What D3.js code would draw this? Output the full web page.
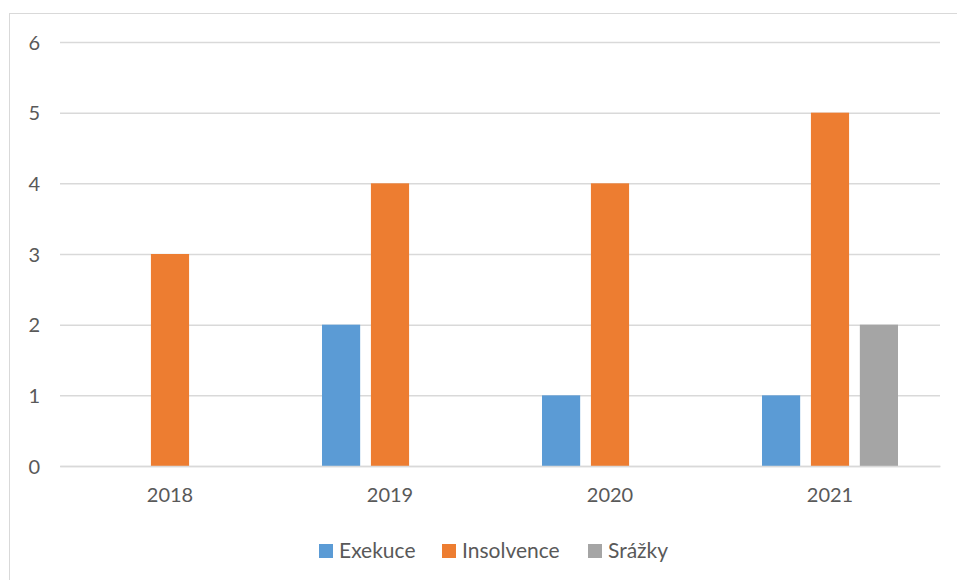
<!DOCTYPE html>
<html>
<head>
<meta charset="utf-8">
<style>
body{ margin:0; background:#fff; }
#chart{ display:block; }
.tick text{ fill:#595959; font-family: Lato, "Open Sans", sans-serif; font-size:20px; }
.legend text{ fill:#595959; font-family: Lato, "Open Sans", sans-serif; font-size:21px; }
</style>
</head>
<body>
<svg id="chart"></svg>
<script src="https://d3js.org/d3.v7.min.js"></script>
<script>
var years = ["2018", "2019", "2020", "2021"]
var seriesNames = ["Exekuce", "Insolvence", "Srážky"]
var exekuce = [0, 2, 1, 1]
var insolvence = [3, 4, 4, 5]
var srazky = [0, 0, 0, 2]
var colors = ["#5B9BD5", "#ED7D31", "#A5A5A5"]
var yTicks = [0, 1, 2, 3, 4, 5, 6]

var W = 957, H = 580
var margin = { top: 42, right: 17, bottom: 114, left: 60 }
var width = W - margin.left - margin.right
var height = H - margin.top - margin.bottom

var svg = d3.select("#chart").attr("width", W).attr("height", H)

// chart area border (Excel style)
svg.append("rect")
    .attr("x", 9.5).attr("y", 13.5)
    .attr("width", 980).attr("height", 600)
    .attr("fill", "none")
    .attr("stroke", "#D9D9D9")

var g = svg.append("g")
    .attr("transform", "translate(" + margin.left + "," + margin.top + ")")

var table = years.map(function(y, i){
    return { year: y, values: [exekuce[i], insolvence[i], srazky[i]] }
})

var x0 = d3.scaleBand().domain(years).range([0, width]).paddingInner(0).paddingOuter(0)
var x1 = d3.scaleBand().domain(seriesNames)
    .range([42, x0.bandwidth() - 42])
    .paddingInner(0.22).paddingOuter(0)
var y = d3.scaleLinear().domain([0, 6]).range([height, 0])

// gridlines
var yAxis = d3.axisLeft(y).tickValues(yTicks).tickFormat(d3.format("d")).tickSize(-width).tickPadding(20)
var ya = g.append("g").call(yAxis)
ya.select(".domain").remove()
ya.selectAll(".tick line").attr("stroke", "#D9D9D9").attr("stroke-width", 1.5)
ya.selectAll(".tick text").attr("dy", "0.35em")

// bars
var groups = g.selectAll(".grp")
    .data(table)
    .enter().append("g")
    .attr("class", "grp")
    .attr("transform", function(d){ return "translate(" + x0(d.year) + ",0)" })

groups.selectAll("rect")
    .data(function(d){ return d.values.map(function(v, i){ return { name: seriesNames[i], v: v, c: colors[i] } }) })
    .enter().append("rect")
    .filter(function(d){ return d.v > 0 })
    .attr("x", function(d){ return x1(d.name) })
    .attr("width", x1.bandwidth())
    .attr("y", function(d){ return y(d.v) })
    .attr("height", function(d){ return height - y(d.v) })
    .attr("fill", function(d){ return d.c })

// x axis
var xa = g.append("g")
    .attr("transform", "translate(0," + height + ")")
    .call(d3.axisBottom(x0).tickSize(0).tickPadding(22))
xa.select(".domain").attr("stroke", "#D9D9D9").attr("stroke-width", 1.5)

// legend
var legendX = [319, 442, 588]
var legend = svg.append("g").attr("class", "legend")
seriesNames.forEach(function(n, i){
    legend.append("rect")
        .attr("x", legendX[i]).attr("y", 544)
        .attr("width", 14).attr("height", 14)
        .attr("fill", colors[i])
    legend.append("text")
        .attr("x", legendX[i] + 20).attr("y", 551)
        .attr("dy", "0.35em")
        .text(n)
})
</script>
</body>
</html>
